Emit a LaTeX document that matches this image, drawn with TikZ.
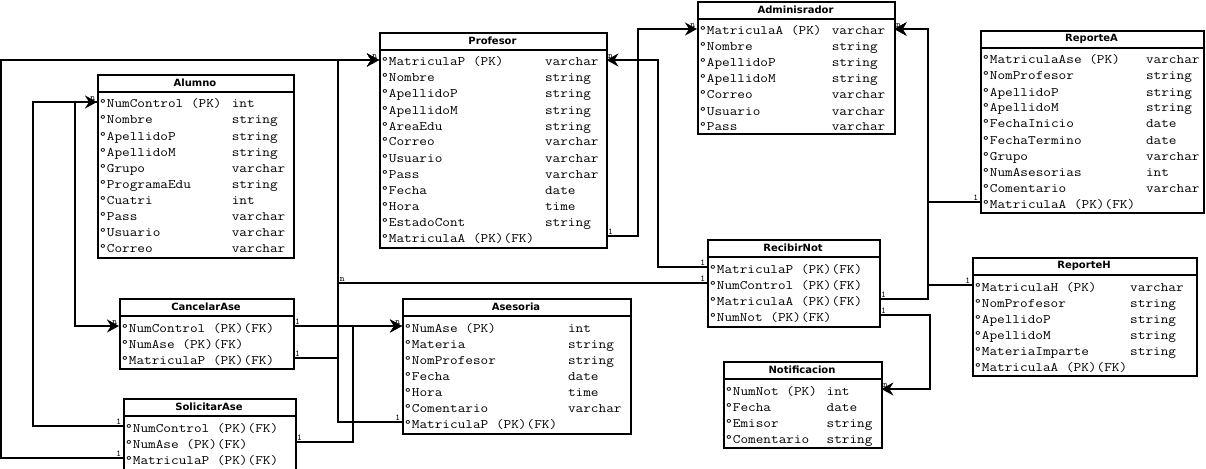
\documentclass[tikz,border=0pt]{standalone}
\usepackage{fontspec}
\usepackage{graphicx}
\usetikzlibrary{arrows.meta,calc}
\newfontfamily\erSans{DejaVu Sans}
\newcommand\erMono{\ttfamily}
% horizontal stretch that gives the typewriter face a 7.8pt pitch at 13pt
\newcommand\erStretch{1.142857}

\tikzset{
  tbox/.style={draw=black, line width=2pt, fill=white, inner sep=0pt, rectangle},
  ttl/.style={font=\erSans\bfseries\fontsize{10}{12}\selectfont, inner sep=0pt},
  fld/.style={font=\erMono\fontsize{13}{16}\selectfont, inner xsep=2pt, inner ysep=0pt,
              text height=13pt, text depth=1pt, anchor=west},
  conn/.style={draw=black, line width=2pt},
  arr/.style={-{Stealth[length=12pt,width=13pt,inset=4pt]}},
  lbl/.style={font=\erMono\fontsize{9}{9}\selectfont, inner sep=0.8pt},
}

% table frame: id, title, left, top, width, number of rows, type column (chars), bottom padding
\newcommand\erTable[8]{%
  \pgfmathsetmacro\erH{18+16*#6+#8}%
  \node[tbox, minimum width=#5pt, minimum height=\erH pt, anchor=north west] (#1) at (#3,#4) {};
  \node[ttl] (#1-title) at ({#3+#5/2},{#4+9}) {#2};
  \draw[line width=2pt] ({#3},{#4+18}) -- ({#3+#5},{#4+18});
  \xdef\erId{#1}\xdef\erL{#3}\xdef\erT{#4}%
  \pgfmathsetmacro\erRowW{(#5-4)/\erStretch}\xdef\erRowW{\erRowW}%
  \pgfmathsetmacro\erColW{#7*7.8/\erStretch}\xdef\erColW{\erColW}%
}
% one attribute row: index, field, type
\newcommand\erRow[3]{%
  \node[fld] (\erId-#1) at ({\erL},{\erT+28+16*(#1-1)})
    {\scalebox{\erStretch}[1]{\makebox[\erRowW pt][l]{\makebox[\erColW pt][l]{°#2}#3}}};
}

\begin{document}
\begin{tikzpicture}[x=1pt,y=-1pt]
\path[use as bounding box, fill=white] (0,0) rectangle (1206,468);

% ---------- tables ----------
\erTable{alumno}{Alumno}{97}{74}{196}{10}{17}{5}
\erRow{1}{NumControl (PK)}{int}
\erRow{2}{Nombre}{string}
\erRow{3}{ApellidoP}{string}
\erRow{4}{ApellidoM}{string}
\erRow{5}{Grupo}{varchar}
\erRow{6}{ProgramaEdu}{string}
\erRow{7}{Cuatri}{int}
\erRow{8}{Pass}{varchar}
\erRow{9}{Usuario}{varchar}
\erRow{10}{Correo}{varchar}

\erTable{profesor}{Profesor}{379}{32}{227}{12}{21}{5}
\erRow{1}{MatriculaP (PK)}{varchar}
\erRow{2}{Nombre}{string}
\erRow{3}{ApellidoP}{string}
\erRow{4}{ApellidoM}{string}
\erRow{5}{AreaEdu}{string}
\erRow{6}{Correo}{varchar}
\erRow{7}{Usuario}{varchar}
\erRow{8}{Pass}{varchar}
\erRow{9}{Fecha}{date}
\erRow{10}{Hora}{time}
\erRow{11}{EstadoCont}{string}
\erRow{12}{MatriculaA (PK)(FK)}{}

\erTable{admin}{Adminisrador}{697}{1}{197}{7}{17}{2}
\erRow{1}{MatriculaA (PK)}{varchar}
\erRow{2}{Nombre}{string}
\erRow{3}{ApellidoP}{string}
\erRow{4}{ApellidoM}{string}
\erRow{5}{Correo}{varchar}
\erRow{6}{Usuario}{varchar}
\erRow{7}{Pass}{varchar}

\erTable{reporteA}{ReporteA}{980}{30}{223}{10}{21}{4}
\erRow{1}{MatriculaAse (PK)}{varchar}
\erRow{2}{NomProfesor}{string}
\erRow{3}{ApellidoP}{string}
\erRow{4}{ApellidoM}{string}
\erRow{5}{FechaInicio}{date}
\erRow{6}{FechaTermino}{date}
\erRow{7}{Grupo}{varchar}
\erRow{8}{NumAsesorias}{int}
\erRow{9}{Comentario}{varchar}
\erRow{10}{MatriculaA (PK)(FK)}{}

\erTable{recibir}{RecibirNot}{707}{239}{172}{4}{0}{5}
\erRow{1}{MatriculaP (PK)(FK)}{}
\erRow{2}{NumControl (PK)(FK)}{}
\erRow{3}{MatriculaA (PK)(FK)}{}
\erRow{4}{NumNot (PK)(FK)}{}

\erTable{reporteH}{ReporteH}{972}{257}{224}{6}{20}{4}
\erRow{1}{MatriculaH (PK)}{varchar}
\erRow{2}{NomProfesor}{string}
\erRow{3}{ApellidoP}{string}
\erRow{4}{ApellidoM}{string}
\erRow{5}{MateriaImparte}{string}
\erRow{6}{MatriculaA (PK)(FK)}{}

\erTable{cancelar}{CancelarAse}{119}{298}{174}{3}{0}{4}
\erRow{1}{NumControl (PK)(FK)}{}
\erRow{2}{NumAse (PK)(FK)}{}
\erRow{3}{MatriculaP (PK)(FK)}{}

\erTable{solicitar}{SolicitarAse}{123}{398}{172}{3}{0}{5}
\erRow{1}{NumControl (PK)(FK)}{}
\erRow{2}{NumAse (PK)(FK)}{}
\erRow{3}{MatriculaP (PK)(FK)}{}

\erTable{asesoria}{Asesoria}{402}{298}{228}{7}{21}{5}
\erRow{1}{NumAse (PK)}{int}
\erRow{2}{Materia}{string}
\erRow{3}{NomProfesor}{string}
\erRow{4}{Fecha}{date}
\erRow{5}{Hora}{time}
\erRow{6}{Comentario}{varchar}
\erRow{7}{MatriculaP (PK)(FK)}{}

\erTable{notif}{Notificacion}{723}{361}{158}{4}{13}{4}
\erRow{1}{NumNot (PK)}{int}
\erRow{2}{Fecha}{date}
\erRow{3}{Emisor}{string}
\erRow{4}{Comentario}{string}

% ---------- routing columns ----------
\coordinate (bx1) at (1,0);
\coordinate (bx33) at (33,0);
\coordinate (bx75) at (75,0);
\coordinate (bx338) at (338,0);
\coordinate (bx353) at (353,0);
\coordinate (bx638) at (638,0);
\coordinate (bx658) at (658,0);
\coordinate (bx928) at (928,0);
\coordinate (bx930) at (930,0);

% ---------- relationships ----------
\draw[conn,arr] (solicitar-3.west) node[lbl,above left]{1} -| (profesor-1.west -| bx1) -- (profesor-1.west) node[lbl,above left]{n};
\draw[conn,arr] (asesoria-7.west) node[lbl,above left]{1} -| (profesor-1.west -| bx338) -- (profesor-1.west);
\draw[conn,arr] (cancelar-3.east) node[lbl,above right]{1} -| (profesor-1.west -| bx338) -- (profesor-1.west);
\coordinate (jn) at (recibir-2.west -| bx338);
\draw[conn] (recibir-2.west) node[lbl,above left]{1} -- (jn) node[lbl,above right]{n};

\draw[conn,arr] (cancelar-1.east) node[lbl,above right]{1} -- (asesoria-1.west) node[lbl,above left]{n};
\draw[conn,arr] (solicitar-2.east) node[lbl,above right]{1} -| (asesoria-1.west -| bx353) -- (asesoria-1.west);

\draw[conn,arr] (solicitar-1.west) node[lbl,above left]{1} -| (alumno-1.west -| bx33) -- (alumno-1.west) node[lbl,above left]{n};
\draw[conn,arr] (alumno-1.west) -- (alumno-1.west -| bx75) |- (cancelar-1.west) node[lbl,above left]{n};

\draw[conn,arr] (profesor-12.east) node[lbl,above right]{1} -| (admin-1.west -| bx638) -- (admin-1.west) node[lbl,above left]{n};
\draw[conn,arr] (recibir-1.west) node[lbl,above left]{1} -| (profesor-1.east -| bx658) -- (profesor-1.east) node[lbl,above right]{n};

\draw[conn,arr] (recibir-3.east) node[lbl,above right]{1} -| (admin-1.east -| bx928) -- (admin-1.east) node[lbl,above right]{n};
\draw[conn,arr] (reporteA-10.west) node[lbl,above left]{1} -| (admin-1.east -| bx928) -- (admin-1.east);
\draw[conn,arr] (reporteH-1.west) node[lbl,above left]{1} -| (admin-1.east -| bx928) -- (admin-1.east);
\draw[conn,arr] (recibir-4.east) node[lbl,above right]{1} -| (notif-1.east -| bx930) -- (notif-1.east) node[lbl,above right]{n};
\end{tikzpicture}
\end{document}
